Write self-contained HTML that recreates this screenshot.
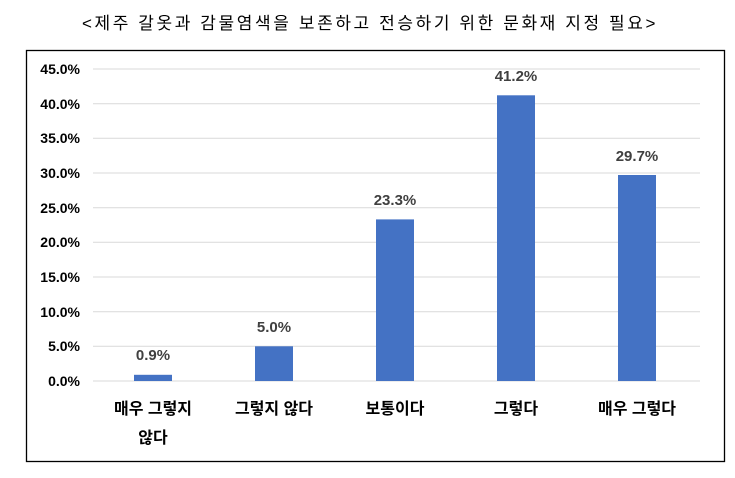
<!DOCTYPE html>
<html><head><meta charset="utf-8"><style>
body{margin:0;background:#fff;width:735px;height:473px;overflow:hidden}
</style></head><body>
<svg width="735" height="473" xmlns="http://www.w3.org/2000/svg" font-family="Liberation Sans, Noto Sans CJK KR, sans-serif">
<text x="370" y="29" text-anchor="middle" font-size="17" fill="#000" letter-spacing="2.6">&lt;제주 갈옷과 감물염색을 보존하고 전승하기 위한 문화재 지정 필요&gt;</text>
<rect x="26.5" y="50.5" width="698" height="411" fill="none" stroke="#000" stroke-width="1.3"/>
<g stroke="#d9d9d9" stroke-width="1">
<line x1="93" x2="700" y1="69" y2="69"/><line x1="93" x2="700" y1="103.7" y2="103.7"/>
<line x1="93" x2="700" y1="138.3" y2="138.3"/><line x1="93" x2="700" y1="173" y2="173"/>
<line x1="93" x2="700" y1="207.7" y2="207.7"/><line x1="93" x2="700" y1="242.3" y2="242.3"/>
<line x1="93" x2="700" y1="277" y2="277"/><line x1="93" x2="700" y1="311.7" y2="311.7"/>
<line x1="93" x2="700" y1="346.3" y2="346.3"/><line x1="93" x2="700" y1="381" y2="381"/>
</g>
<g font-size="14" font-weight="bold" fill="#000" text-anchor="end">
<text x="80" y="74">45.0%</text><text x="80" y="109">40.0%</text><text x="80" y="143">35.0%</text>
<text x="80" y="178">30.0%</text><text x="80" y="213">25.0%</text><text x="80" y="247">20.0%</text>
<text x="80" y="282">15.0%</text><text x="80" y="317">10.0%</text><text x="80" y="351">5.0%</text>
<text x="80" y="386">0.0%</text>
</g>
<g fill="#4472c4">
<rect x="134" y="374.8" width="38" height="6.2"/>
<rect x="255" y="346.3" width="38" height="34.7"/>
<rect x="376" y="219.4" width="38" height="161.6"/>
<rect x="497" y="95.3" width="38" height="285.7"/>
<rect x="618" y="175" width="38" height="206"/>
</g>
<g font-size="15" font-weight="bold" fill="#404040" text-anchor="middle">
<text x="153" y="360">0.9%</text><text x="274" y="332">5.0%</text>
<text x="395" y="205">23.3%</text><text x="516" y="81">41.2%</text><text x="637" y="161">29.7%</text>
</g>
<g font-size="16" font-weight="bold" fill="#000" text-anchor="middle">
<text x="153" y="414">매우 그렇지</text><text x="153" y="443">않다</text>
<text x="274" y="414">그렇지 않다</text><text x="395" y="414">보통이다</text>
<text x="516" y="414">그렇다</text><text x="637" y="414">매우 그렇다</text>
</g>
</svg>
</body></html>
